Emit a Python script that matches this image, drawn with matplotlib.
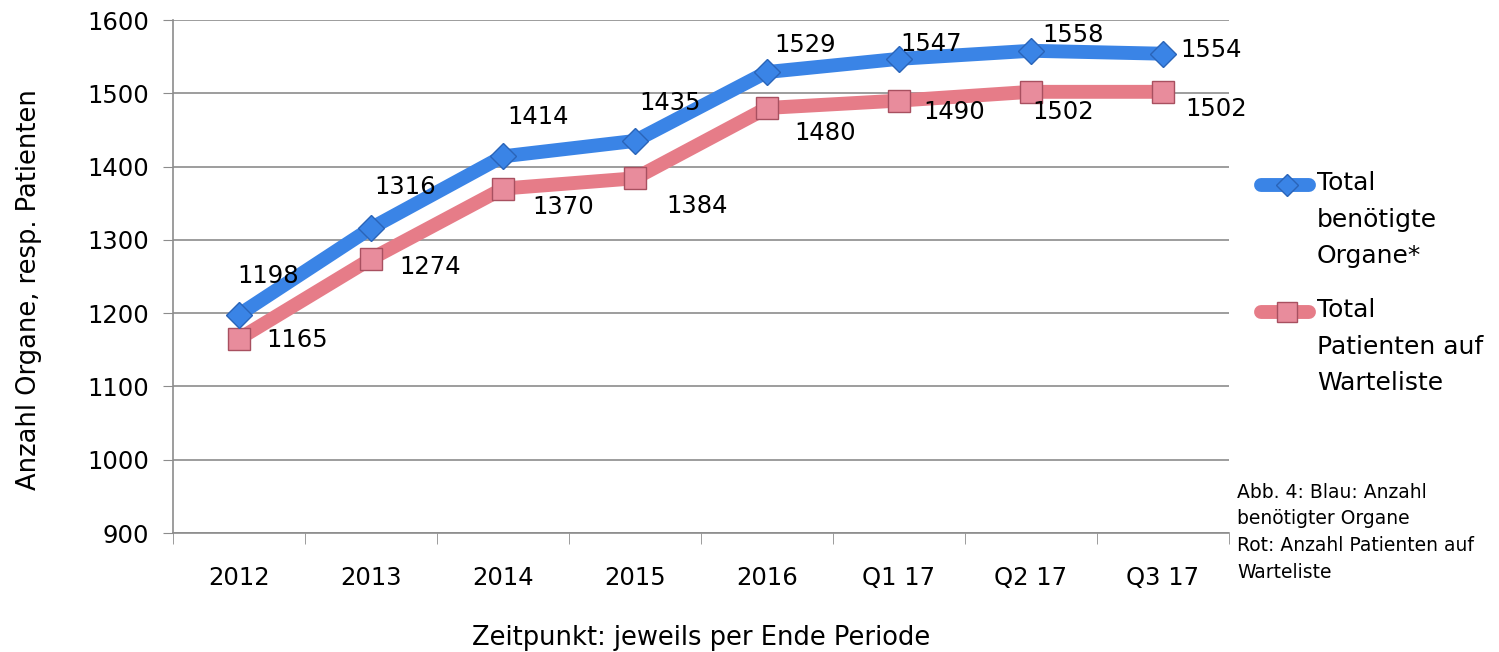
import matplotlib.pyplot as plt
from matplotlib.lines import Line2D

plt.rcParams["font.family"] = ["DejaVu Sans"]

perioden = ["2012", "2013", "2014", "2015", "2016", "Q1 17", "Q2 17", "Q3 17"]
organe = [1198, 1316, 1414, 1435, 1529, 1547, 1558, 1554]
patienten = [1165, 1274, 1370, 1384, 1480, 1490, 1502, 1502]

blau = "#3A84E6"
blau_rand = "#2A64B8"
rot = "#E67C88"
rot_marker = "#E88C9C"
rot_rand = "#A85060"
grau = "#8C8C8C"

fig = plt.figure(figsize=(14.99, 6.52), dpi=100)
ax = fig.add_axes([173 / 1499, 1 - 533 / 652, (1229 - 173) / 1499, (533 - 20) / 652])

x = list(range(len(perioden)))
ax.plot(x, organe, color=blau, lw=10, marker="D", ms=13, mfc=blau, mec=blau_rand, mew=1, zorder=4,
        solid_joinstyle="round", solid_capstyle="round")
ax.plot(x, patienten, color=rot, lw=10, marker="s", ms=16, mfc=rot_marker, mec=rot_rand, mew=1, zorder=3,
        solid_joinstyle="round", solid_capstyle="round")

# Beschriftungen (Versatz in Pixel)
off_blau = [(29, 39), (34, 41), (35, 39), (35, 38), (38, 27), (32, 15), (42, 16), (48, 4)]
off_rot = [(58, -1), (59, -8), (60, -18), (62, -28), (58, -25), (55, -11), (32, -20), (53, -17)]
for i in x:
    ax.annotate(str(organe[i]), (i, organe[i]), xytext=(off_blau[i][0] * 0.72, off_blau[i][1] * 0.72),
                textcoords="offset points", ha="center", va="center", fontsize=17.5, zorder=5)
    ax.annotate(str(patienten[i]), (i, patienten[i]), xytext=(off_rot[i][0] * 0.72, off_rot[i][1] * 0.72),
                textcoords="offset points", ha="center", va="center", fontsize=17.5, zorder=5)

ax.set_xlim(-0.5, len(perioden) - 0.5)
ax.set_ylim(900, 1600)
ax.set_yticks(range(900, 1601, 100))
ax.set_xticks(x)
ax.set_xticklabels(perioden)
ax.set_xticks([i - 0.5 for i in range(len(perioden) + 1)], minor=True)
ax.tick_params(axis="x", which="major", length=0, pad=24, labelsize=17.5)
ax.tick_params(axis="x", which="minor", length=8, color=grau, direction="out")
ax.tick_params(axis="y", length=7, color=grau, pad=10, labelsize=17.5)
ax.grid(axis="y", color=grau, lw=1.2)
ax.set_axisbelow(True)
for s in ["top", "right"]:
    ax.spines[s].set_visible(False)
for s in ["left", "bottom"]:
    ax.spines[s].set_color(grau)
    ax.spines[s].set_linewidth(1.2)

ax.set_ylabel("Anzahl Organe, resp. Patienten", fontsize=18.5)
ax.yaxis.set_label_coords(-(173 - 42) / 1056, 0.474)
ax.set_xlabel("Zeitpunkt: jeweils per Ende Periode", fontsize=18.5, labelpad=25)

# Legende
def fx(px):
    return px / 1499

def fy(py):
    return 1 - py / 652

for y_px, farbe, m, mfc, mec, label in [
    (185, blau, "D", blau, blau_rand, "Total\nbenötigte\nOrgane*"),
    (312, rot, "s", rot_marker, rot_rand, "Total\nPatienten auf\nWarteliste"),
]:
    fig.add_artist(Line2D([fx(1261), fx(1309)], [fy(y_px), fy(y_px)], transform=fig.transFigure,
                          color=farbe, lw=10, solid_capstyle="round"))
    fig.add_artist(Line2D([fx(1287)], [fy(y_px)], transform=fig.transFigure, marker=m, ms=11 if m == "D" else 15,
                          mfc=mfc, mec=mec, mew=1, lw=0))
    fig.text(fx(1317), fy(y_px - 14), label, fontsize=18, va="top", ha="left", linespacing=1.66)

fig.text(fx(1237), fy(483), "Abb. 4: Blau: Anzahl\nbenötigter Organe\nRot: Anzahl Patienten auf\nWarteliste",
         fontsize=13.5, va="top", ha="left", linespacing=1.5)

plt.savefig("out.png", dpi=100)
